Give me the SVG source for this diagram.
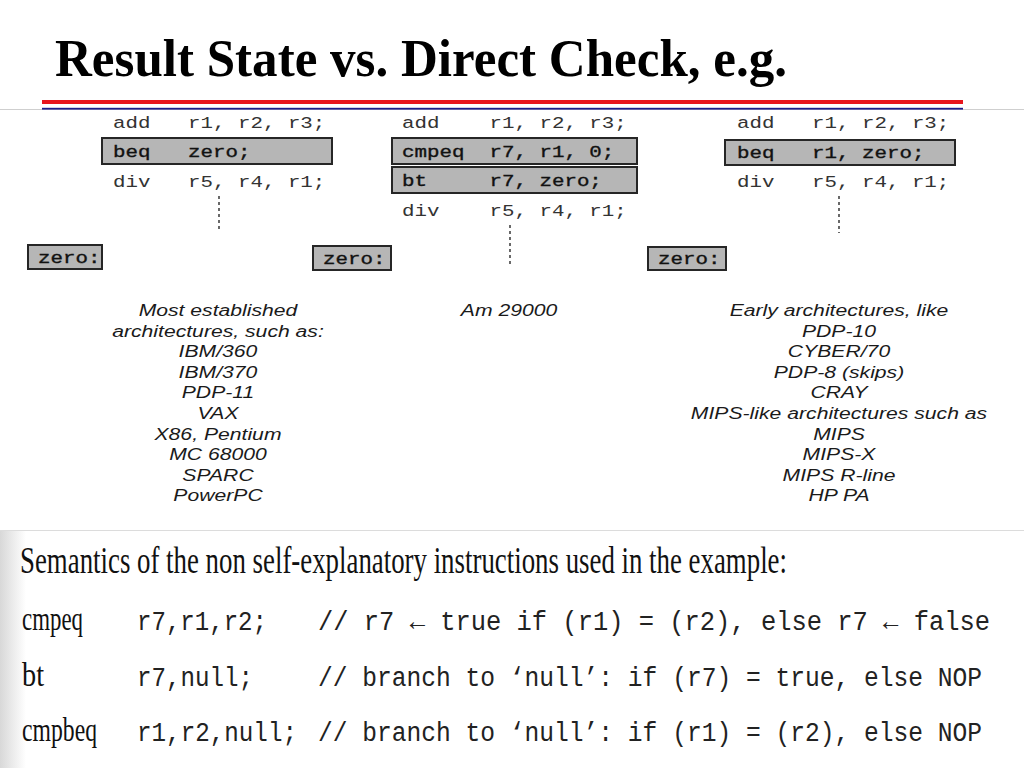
<svg xmlns="http://www.w3.org/2000/svg" width="1024" height="768" viewBox="0 0 1024 768">
<style>
.title{font-family:"Liberation Serif","Times New Roman",serif;font-weight:bold;font-size:52px;fill:#000}
.code{font-family:"Liberation Mono","Courier New",monospace;font-size:17px;fill:#333}
.bcode{font-family:"Liberation Mono","Courier New",monospace;font-size:17px;fill:#111;stroke:#111;stroke-width:0.35}
.box{fill:#b6b6b6;stroke:#262626;stroke-width:2}
.arch{font-family:"Liberation Sans",Arial,sans-serif;font-style:italic;font-size:17px;fill:#1a1a1a;text-anchor:middle}
.sem{font-family:"Liberation Serif","Times New Roman",serif;fill:#111}
.mono{font-family:"Liberation Mono","Courier New",monospace;font-size:27px;fill:#222}
.dot{stroke:#444;stroke-width:1.6;stroke-dasharray:3 3;fill:none}
</style>
<defs>
<linearGradient id="shade" x1="0" y1="0" x2="1" y2="0">
<stop offset="0" stop-color="#d8d8d8"/>
<stop offset="1" stop-color="#ffffff"/>
</linearGradient>
</defs>
<rect width="1024" height="768" fill="#fff"/>
<rect x="0" y="530" width="26" height="238" fill="url(#shade)"/>

<g id="header">
<text class="title" x="55" y="76" textLength="732" lengthAdjust="spacingAndGlyphs">Result State vs. Direct Check, e.g.</text>
<line x1="0" y1="109.5" x2="1024" y2="109.5" stroke="#cfcfcf" stroke-width="1"/>
<rect x="42" y="100" width="921" height="4" fill="#e8141c"/>
<rect x="42" y="107.8" width="921" height="1.8" fill="#1c1c8a"/>
<line x1="0" y1="530.5" x2="1024" y2="530.5" stroke="#dcdcdc" stroke-width="1"/>
</g>

<g id="left-code">
<text class="code" xml:space="preserve" transform="translate(113,128) scale(1.225,1)">add   r1, r2, r3;</text>
<rect class="box" x="102" y="138" width="230" height="26"/>
<text class="bcode" xml:space="preserve" transform="translate(113,157) scale(1.225,1)">beq   zero;</text>
<text class="code" xml:space="preserve" transform="translate(113,187) scale(1.225,1)">div   r5, r4, r1;</text>
</g>
<g id="left-zero">
<rect class="box" x="28" y="245" width="74" height="24"/>
<text class="bcode" transform="translate(38,263) scale(1.225,1)">zero:</text>
</g>

<g id="mid-code">
<text class="code" xml:space="preserve" transform="translate(402,128) scale(1.225,1)">add    r1, r2, r3;</text>
<rect class="box" x="392" y="138" width="245" height="26"/>
<text class="bcode" xml:space="preserve" transform="translate(402,157) scale(1.225,1)">cmpeq  r7, r1, 0;</text>
<rect class="box" x="392" y="167" width="245" height="26"/>
<text class="bcode" xml:space="preserve" transform="translate(402,186) scale(1.225,1)">bt     r7, zero;</text>
<text class="code" xml:space="preserve" transform="translate(402,216) scale(1.225,1)">div    r5, r4, r1;</text>
</g>
<g id="mid-zero">
<rect class="box" x="313" y="246" width="78" height="24"/>
<text class="bcode" transform="translate(323,264) scale(1.225,1)">zero:</text>
</g>

<g id="right-code">
<text class="code" xml:space="preserve" transform="translate(737,128) scale(1.225,1)">add   r1, r2, r3;</text>
<rect class="box" x="725" y="140" width="230" height="25"/>
<text class="bcode" xml:space="preserve" transform="translate(737,158) scale(1.225,1)">beq   r1, zero;</text>
<text class="code" xml:space="preserve" transform="translate(737,187) scale(1.225,1)">div   r5, r4, r1;</text>
</g>
<g id="right-zero">
<rect class="box" x="648" y="247" width="78" height="23"/>
<text class="bcode" transform="translate(658,264) scale(1.225,1)">zero:</text>
</g>

<g id="connectors">
<line class="dot" x1="219" y1="196" x2="219" y2="232"/>
<line class="dot" x1="510" y1="225" x2="510" y2="265"/>
<line class="dot" x1="839" y1="196" x2="839" y2="233"/>
</g>

<g id="left-arch" transform="translate(218,0) scale(1.245,1)">
<text class="arch" x="0" y="316">Most established</text>
<text class="arch" x="0" y="336.6">architectures, such as:</text>
<text class="arch" x="0" y="357.2">IBM/360</text>
<text class="arch" x="0" y="377.8">IBM/370</text>
<text class="arch" x="0" y="398.4">PDP-11</text>
<text class="arch" x="0" y="419">VAX</text>
<text class="arch" x="0" y="439.6">X86, Pentium</text>
<text class="arch" x="0" y="460.2">MC 68000</text>
<text class="arch" x="0" y="480.8">SPARC</text>
<text class="arch" x="0" y="501.4">PowerPC</text>
</g>

<g id="mid-arch" transform="translate(509,0) scale(1.245,1)">
<text class="arch" x="0" y="316">Am 29000</text>
</g>

<g id="right-arch" transform="translate(839,0) scale(1.245,1)">
<text class="arch" x="0" y="316">Early architectures, like</text>
<text class="arch" x="0" y="336.6">PDP-10</text>
<text class="arch" x="0" y="357.2">CYBER/70</text>
<text class="arch" x="0" y="377.8">PDP-8 (skips)</text>
<text class="arch" x="0" y="398.4">CRAY</text>
<text class="arch" x="0" y="419">MIPS-like architectures such as</text>
<text class="arch" x="0" y="439.6">MIPS</text>
<text class="arch" x="0" y="460.2">MIPS-X</text>
<text class="arch" x="0" y="480.8">MIPS R-line</text>
<text class="arch" x="0" y="501.4">HP PA</text>
</g>

<g id="semantics">
<text class="sem" x="20" y="573" font-size="38" textLength="767" lengthAdjust="spacingAndGlyphs">Semantics of the non self-explanatory instructions used in the example:</text>
<text class="sem" x="22" y="630" font-size="34" textLength="61" lengthAdjust="spacingAndGlyphs">cmpeq</text>
<text class="mono" x="137" y="630" textLength="130" lengthAdjust="spacingAndGlyphs">r7,r1,r2;</text>
<text class="mono" x="318" y="630" textLength="672" lengthAdjust="spacingAndGlyphs">// r7 ← true if (r1) = (r2), else r7 ← false</text>
<text class="sem" x="22" y="686" font-size="34" textLength="22" lengthAdjust="spacingAndGlyphs">bt</text>
<text class="mono" x="137" y="686" textLength="116" lengthAdjust="spacingAndGlyphs">r7,null;</text>
<text class="mono" x="318" y="686" textLength="664" lengthAdjust="spacingAndGlyphs">// branch to ‘null’: if (r7) = true, else NOP</text>
<text class="sem" x="22" y="741" font-size="34" textLength="75" lengthAdjust="spacingAndGlyphs">cmpbeq</text>
<text class="mono" x="137" y="741" textLength="160" lengthAdjust="spacingAndGlyphs">r1,r2,null;</text>
<text class="mono" x="318" y="741" textLength="664" lengthAdjust="spacingAndGlyphs">// branch to ‘null’: if (r1) = (r2), else NOP</text>
</g>
</svg>
